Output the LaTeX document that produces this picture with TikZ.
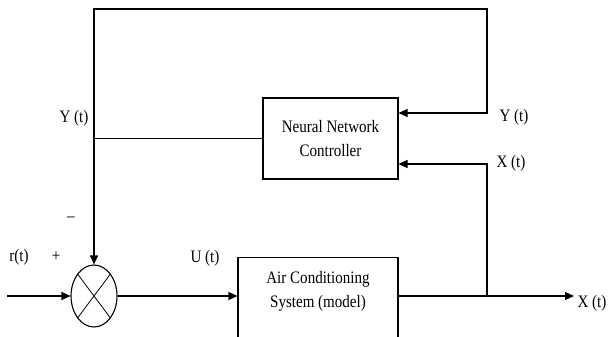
\documentclass[tikz,border=0pt]{standalone}
\usepackage{fontspec}
\setmainfont[FakeStretch=0.86]{Liberation Serif}
\usetikzlibrary{arrows.meta,shapes.geometric}

\begin{document}
\begin{tikzpicture}[x=1pt,y=-1pt,line width=1.1pt,
  font=\fontsize{17.5}{24}\selectfont,
  >={Triangle[length=9pt,width=8pt]},
  block/.style={draw,rectangle,inner sep=0pt,align=center},
  sumnode/.style={draw,ellipse,inner sep=0pt,minimum width=46pt,minimum height=62pt}]
 \useasboundingbox (0,0) rectangle (608,337);
 \clip (0,0) rectangle (608,337);
 % blocks
 \node[block,minimum width=135pt,minimum height=81pt] (nn) at (330.5,138.5) {Neural Network\\Controller};
 \node[block,minimum width=160pt,minimum height=110pt,anchor=north] (ac) at (318,257) {};
 \node[inner sep=0pt,align=center,anchor=north] (actext) at (318,271) {Air Conditioning\\System (model)};
 \node[sumnode] (sum) at (94,296) {};
 \draw[line width=0.8pt] (sum.north west) -- (sum.south east) (sum.north east) -- (sum.south west);
 % signal lines
 \coordinate (in) at (7,296);
 \coordinate (out) at (574,296);
 \coordinate (br) at (487,296);
 \coordinate (tl) at (94,9);
 \coordinate (tr) at (487,9);
 \draw[->] (in) -- (sum.west);
 \draw[->] (sum.east) -- (sum -| ac.west);
 \draw[->] (sum -| ac.east) -- (out);
 \draw[->] (br) |- ([yshift=-25.5pt]nn.east);
 \draw[<->] ([yshift=25.5pt]nn.east) -| (tr) -- (tl) -- (sum.north);
 \draw (nn.west) -- (nn.west -| sum);
 % labels
 \node (ylab) at (74,118) {Y (t)};
 \node (minus) at (71,219) {--};
 \node (rlab) at (19,257) {r(t)};
 \node (plus) at (56,257) {+};
 \node (ulab) at (205,258) {U (t)};
 \node (yin) at (514,117) {Y (t)};
 \node (xin) at (511,163) {X (t)};
 \node (xout) at (592,303) {X (t)};
\end{tikzpicture}
\end{document}
